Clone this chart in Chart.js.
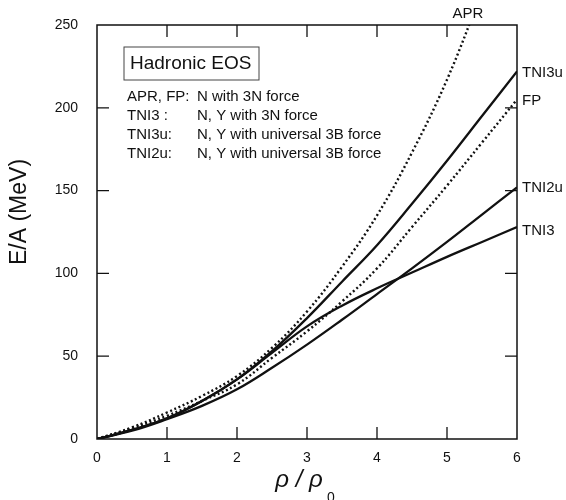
<!DOCTYPE html>
<html>
<head>
<meta charset="utf-8">
<script src="https://cdn.jsdelivr.net/npm/chart.js@4.4.1/dist/chart.umd.min.js"></script>
<style>
  html, body { margin: 0; padding: 0; background: #fff; }
  canvas { display: block; }
</style>
</head>
<body>
<canvas id="eosChart" width="566" height="500"></canvas>
<script>
// density in units of rho_0
const density = [0, 0.5, 1, 1.5, 2, 2.5, 3, 3.5, 4, 4.5, 5, 5.5, 6];

// E/A (MeV) for each EOS
const apr   = [0, 7, 16, 26, 38, 55, 77, 104, 135, 173, 217, 270];
const fp    = [0, 6.5, 14, 23, 33, 49, 65, 83, 103, 128, 153, 179, 205];
const tni3u = [0, 5.5, 12.5, 23, 36, 53, 73, 95, 117, 142, 168, 195, 222];
const tni3  = [0, 5.5, 12.5, 23, 36, 52, 68, 80.5, 91, 100.5, 110, 119, 128];
const tni2u = [0, 5, 12, 20, 30, 43, 57, 72, 87.5, 103, 119, 135.5, 152];

const xTicks = [0, 1, 2, 3, 4, 5, 6];
const yTicks = [0, 50, 100, 150, 200, 250];

const boxTitle = "Hadronic EOS";
const legendNames = ["APR, FP:", "TNI3 :", "TNI3u:", "TNI2u:"];
const legendDesc = [
  "N with 3N force",
  "N, Y with 3N force",
  "N, Y with universal 3B force",
  "N, Y with universal 3B force"
];

const INK = "#111";
const FONT = "'Liberation Sans', Arial, sans-serif";
const pts = (ys) => ys.map((y, i) => ({ x: density[i], y: y }));

function line(label, ys, dotted) {
  return {
    label: label,
    data: pts(ys),
    borderColor: INK,
    borderWidth: dotted ? 2.4 : 2.3,
    borderDash: dotted ? [2, 2.6] : [],
    pointRadius: 0,
    tension: 0.4,
    fill: false
  };
}

// frame, inward ticks on all four sides, curve labels, text box, axis titles
const decorations = {
  id: "decorations",
  afterDraw(chart) {
    const { ctx, chartArea: a, scales: { x, y } } = chart;
    ctx.save();
    ctx.strokeStyle = INK;
    ctx.lineWidth = 1.5;
    ctx.strokeRect(a.left, a.top, a.right - a.left, a.bottom - a.top);

    ctx.lineWidth = 1.3;
    ctx.beginPath();
    xTicks.slice(1, -1).forEach((v) => {
      const px = x.getPixelForValue(v);
      ctx.moveTo(px, a.bottom); ctx.lineTo(px, a.bottom - 12);
      ctx.moveTo(px, a.top); ctx.lineTo(px, a.top + 12);
    });
    yTicks.slice(1, -1).forEach((v) => {
      const py = y.getPixelForValue(v);
      ctx.moveTo(a.left, py); ctx.lineTo(a.left + 12, py);
      ctx.moveTo(a.right, py); ctx.lineTo(a.right - 12, py);
    });
    ctx.stroke();

    // curve labels at the right edge
    ctx.fillStyle = INK;
    ctx.font = "15px " + FONT;
    ctx.textBaseline = "middle";
    ctx.textAlign = "left";
    const lx = a.right + 5;
    ctx.fillText("TNI3u", lx, y.getPixelForValue(tni3u[tni3u.length - 1]) + 1);
    ctx.fillText("FP", lx, y.getPixelForValue(fp[fp.length - 1]) + 1);
    ctx.fillText("TNI2u", lx, y.getPixelForValue(tni2u[tni2u.length - 1]) + 1);
    ctx.fillText("TNI3", lx, y.getPixelForValue(tni3[tni3.length - 1]) + 4);
    ctx.textAlign = "center";
    ctx.fillText("APR", x.getPixelForValue(5.3), a.top - 11);

    // Hadronic EOS box
    ctx.lineWidth = 1;
    ctx.strokeStyle = "#444";
    ctx.strokeRect(124, 47, 135, 33);
    ctx.font = "19px " + FONT;
    ctx.textAlign = "left";
    ctx.fillText(boxTitle, 130, 64);

    ctx.font = "15px " + FONT;
    legendNames.forEach((name, i) => {
      const ty = 97 + i * 19;
      ctx.fillText(name, 127, ty);
      ctx.fillText(legendDesc[i], 197, ty);
    });

    // y title
    ctx.save();
    ctx.translate(20, 212);
    ctx.rotate(-Math.PI / 2);
    ctx.textAlign = "center";
    ctx.font = "23px " + FONT;
    ctx.fillText("E/A (MeV)", 0, 0);
    ctx.restore();

    // x title with subscript
    ctx.textBaseline = "alphabetic";
    ctx.textAlign = "center";
    ctx.font = "italic 24px " + FONT;
    ctx.fillText("\u03c1 / \u03c1", 299, 487);
    ctx.textAlign = "left";
    ctx.font = "14px " + FONT;
    ctx.fillText("0", 327, 502);
    ctx.restore();
  }
};

new Chart(document.getElementById("eosChart"), {
  type: "line",
  data: {
    datasets: [
      line("APR", apr, true),
      line("FP", fp, true),
      line("TNI3u", tni3u, false),
      line("TNI3", tni3, false),
      line("TNI2u", tni2u, false)
    ]
  },
  options: {
    responsive: false,
    animation: false,
    layout: { padding: { top: 25, right: 49, left: 0, bottom: 0 } },
    plugins: { legend: { display: false }, tooltip: { enabled: false } },
    scales: {
      x: {
        type: "linear",
        min: 0,
        max: 6,
        afterBuildTicks: (s) => { s.ticks = xTicks.map((v) => ({ value: v })); },
        afterFit: (s) => { s.height = 61; },
        grid: { display: false },
        border: { display: false },
        ticks: { padding: 3, color: INK, font: { family: FONT, size: 14 } }
      },
      y: {
        type: "linear",
        min: 0,
        max: 250,
        afterBuildTicks: (s) => { s.ticks = yTicks.map((v) => ({ value: v })); },
        afterFit: (s) => { s.width = 97; },
        grid: { display: false },
        border: { display: false },
        ticks: { padding: 11, color: INK, font: { family: FONT, size: 14 } }
      }
    }
  },
  plugins: [decorations]
});
</script>
</body>
</html>
